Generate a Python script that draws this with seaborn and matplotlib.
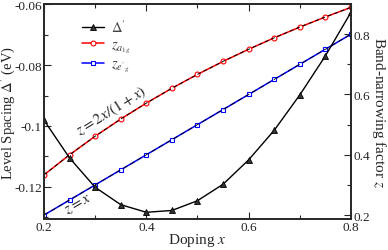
import matplotlib
matplotlib.use('Agg')
import matplotlib.pyplot as plt
import seaborn as sns
from matplotlib.ticker import MultipleLocator, FormatStrFormatter

# valeurs
doping = [0.2, 0.25, 0.3, 0.35, 0.4, 0.45, 0.5, 0.55, 0.6, 0.65, 0.7, 0.75, 0.8]
delta_prime = [-0.0981, -0.1105, -0.1201, -0.1258, -0.1283, -0.1277, -0.1245,
               -0.1191, -0.1111, -0.1014, -0.0898, -0.0770, -0.0627]
z_a1g = [0.3333, 0.4000, 0.4615, 0.5185, 0.5714, 0.6207, 0.6667, 0.7097,
         0.7500, 0.7879, 0.8235, 0.8571, 0.8889]
z_eg = [0.20, 0.25, 0.30, 0.35, 0.40, 0.45, 0.50, 0.55, 0.60, 0.65, 0.70, 0.75, 0.80]

sns.set_style('ticks')
plt.rcParams['font.family'] = ['Liberation Serif', 'DejaVu Serif']
plt.rcParams['mathtext.fontset'] = 'stix'
plt.rcParams['axes.unicode_minus'] = False

fig = plt.figure(figsize=(3.88, 2.51), dpi=100)
ax = fig.add_axes([0.1134, 0.1235, 0.7912, 0.8565])
ax2 = ax.twinx()

# courbes z (axe de droite)
sns.lineplot(x=doping, y=z_a1g, ax=ax2, color='red', lw=1.1, marker='o', markersize=3.5,
             markerfacecolor='white', markeredgecolor='red', markeredgewidth=0.8,
             label=r'$z_{a_{1g}}$', legend=False)
sns.lineplot(x=doping, y=z_a1g, ax=ax2, color='black', lw=0.7, linestyle=(0, (4, 3)),
             legend=False)
sns.lineplot(x=doping, y=z_eg, ax=ax2, color='blue', lw=1.1, marker='s', markersize=3.2,
             markerfacecolor='white', markeredgecolor='blue', markeredgewidth=0.8,
             label=r"$z_{e'_g}$", legend=False)
sns.lineplot(x=doping, y=z_eg, ax=ax2, color='black', lw=0.6, linestyle=(0, (6, 4)),
             legend=False)

# Delta' (axe de gauche)
sns.lineplot(x=doping, y=delta_prime, ax=ax, color='black', lw=1.0, marker='^', markersize=4,
             markerfacecolor='#333333', markeredgecolor='black', markeredgewidth=0.6,
             label=r"$\Delta'$", legend=False)
ax.set_zorder(ax2.get_zorder() + 1)
ax.patch.set_visible(False)

ax.set_xlim(0.2, 0.8)
ax.set_ylim(-0.1305, -0.06)
ax2.set_ylim(0.187, 0.9)

ax.xaxis.set_major_locator(MultipleLocator(0.2))
ax.xaxis.set_minor_locator(MultipleLocator(0.1))
ax.xaxis.set_major_formatter(FormatStrFormatter('%g'))
ax.yaxis.set_major_locator(MultipleLocator(0.02))
ax.yaxis.set_minor_locator(MultipleLocator(0.01))
ax.yaxis.set_major_formatter(FormatStrFormatter('%g'))
ax2.yaxis.set_major_locator(MultipleLocator(0.2))
ax2.yaxis.set_minor_locator(MultipleLocator(0.1))
ax2.yaxis.set_major_formatter(FormatStrFormatter('%g'))

ax.tick_params(which='both', direction='in', top=True, right=False, labelsize=9.5, pad=1.5)
ax.tick_params(which='major', length=5, width=0.8)
ax.tick_params(which='minor', length=3, width=0.8)
ax2.tick_params(which='both', direction='in', labelsize=9.5, pad=1.5)
ax2.tick_params(which='major', length=5, width=0.8)
ax2.tick_params(which='minor', length=3, width=0.8)
for a in (ax, ax2):
    for s in a.spines.values():
        s.set_linewidth(1.2)

ax.set_xlabel(r'Doping $x$', fontsize=11, labelpad=-1.5)
ax.set_ylabel(r"Level Spacing $\Delta'$ (eV)", fontsize=10.5, labelpad=-2)
ax2.set_ylabel(r'Band-narrowing factor $z$', fontsize=11, rotation=270,
               va='bottom', labelpad=0)

ax.text(0.3407, -0.0972, r'$z = 2x/(1+x)$', fontsize=11, rotation=32,
        rotation_mode='anchor', ha='center', va='bottom')
ax.text(0.262, -0.1238, r'$z = x$', fontsize=11, rotation=30,
        rotation_mode='anchor', ha='center', va='top')

h1, l1 = ax.get_legend_handles_labels()
h2, l2 = ax2.get_legend_handles_labels()
leg = ax.legend(h1 + h2, l1 + l2, loc='upper left', bbox_to_anchor=(0.08, 0.995),
                frameon=False, fontsize=10.5, handlelength=1.5, labelspacing=0.2,
                handletextpad=0.5)
for t in leg.get_texts():
    t.set_color('#444444')

fig.savefig('out.png', dpi=100)
